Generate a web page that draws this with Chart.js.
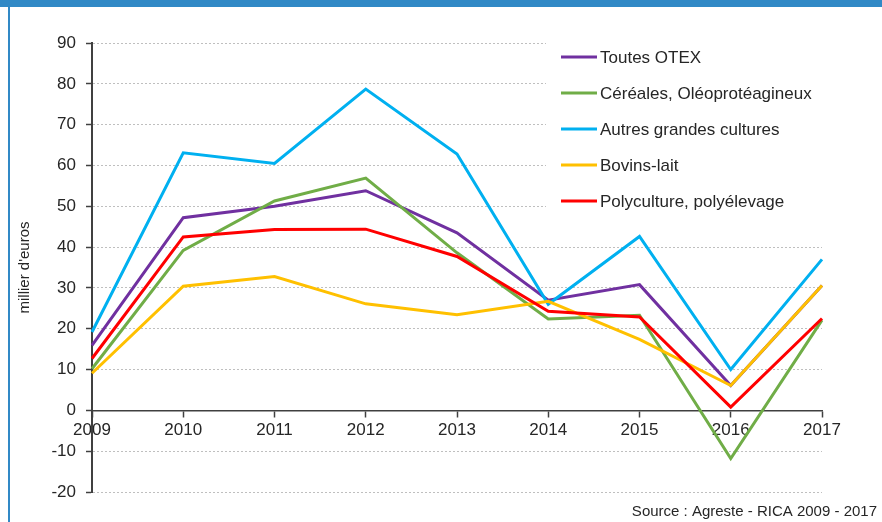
<!DOCTYPE html>
<html>
<head>
<meta charset="utf-8">
<script src="https://cdn.jsdelivr.net/npm/chart.js@4"></script>
<style>
    body { margin: 0; background: #ffffff; }
    #marco { position: relative; width: 882px; height: 522px; overflow: hidden; }
    #barraSuperior { position: absolute; left: 0; top: 0; width: 882px; height: 7px; background: #3189c6; }
    #bordeIzquierdo { position: absolute; left: 8px; top: 0; width: 2px; height: 522px; background: #3189c6; }
    #graficaOtex { position: absolute; left: 0; top: 0; }
</style>
</head>
<body>
<div id="marco">
    <div id="barraSuperior"></div>
    <div id="bordeIzquierdo"></div>
    <canvas id="graficaOtex" width="882" height="522"></canvas>
</div>
<script>
// datos (millier d'euros)
const anios = ["2009", "2010", "2011", "2012", "2013", "2014", "2015", "2016", "2017"];
const nombresSeries = [
    "Toutes OTEX",
    "Céréales, Oléoprotéagineux",
    "Autres grandes cultures",
    "Bovins-lait",
    "Polyculture, polyélevage"
];
const toutesOtex = [15.9, 47.2, 50.0, 53.8, 43.5, 27.0, 30.8, 6.1, 30.6];
const cereales = [10.2, 39.2, 51.3, 56.9, 38.6, 22.4, 23.3, -11.8, 22.1];
const autresCultures = [19.2, 63.1, 60.5, 78.7, 62.8, 26.0, 42.6, 10.0, 37.0];
const bovinsLait = [9.1, 30.4, 32.8, 26.1, 23.4, 26.7, 17.4, 6.1, 30.6];
const polyculture = [12.7, 42.5, 44.3, 44.4, 37.7, 24.3, 22.9, 0.8, 22.5];
const colores = ["#7030a0", "#70ad47", "#00b0f0", "#ffc000", "#ff0000"];
const limitesEjeY = [-20, 90];
const fuente = "Source : Agreste - RICA 2009 - 2017";

const valoresSeries = [toutesOtex, cereales, autresCultures, bovinsLait, polyculture];

//leyenda dibujada dentro del area del grafico, arriba a la derecha
const leyendaInterna = {
    id: "leyendaInterna",
    afterDraw(chart) {
        const ctx = chart.ctx;
        ctx.save();
        ctx.fillStyle = "#ffffff";
        ctx.fillRect(546, 36, 290, 184);
        ctx.font = "17px 'Liberation Sans', Arial, sans-serif";
        ctx.textBaseline = "middle";
        chart.data.datasets.forEach((serie, i) => {
            const y = 57 + i * 36;
            ctx.strokeStyle = serie.borderColor;
            ctx.lineWidth = 3;
            ctx.beginPath();
            ctx.moveTo(561, y);
            ctx.lineTo(597, y);
            ctx.stroke();
            ctx.fillStyle = "#262626";
            ctx.fillText(serie.label, 600, y + 1);
        });
        // texto de la fuente abajo a la derecha
        ctx.font = "15px 'Liberation Sans', Arial, sans-serif";
        ctx.textAlign = "right";
        ctx.textBaseline = "alphabetic";
        ctx.fillStyle = "#262626";
        ctx.fillText(fuente, 877, 516);
        ctx.restore();
    }
};

function crearGrafica() {
    const ctx = document.getElementById("graficaOtex").getContext("2d");
    new Chart(ctx, {
        type: "line",
        data: {
            labels: anios,
            datasets: nombresSeries.map((nombre, i) => ({
                label: nombre,
                data: valoresSeries[i],
                borderColor: colores[i],
                backgroundColor: colores[i],
                borderWidth: 3,
                pointRadius: 0,
                tension: 0,
                order: nombresSeries.length - i
            }))
        },
        options: {
            responsive: false,
            animation: false,
            layout: { padding: { left: 12, top: 43, right: 60, bottom: 30 } },
            plugins: {
                legend: { display: false },
                tooltip: { enabled: false }
            },
            scales: {
                x: {
                    position: { y: 0 },
                    offset: false,
                    border: { color: "#404040", width: 1.5 },
                    grid: {
                        drawOnChartArea: false,
                        drawTicks: true,
                        tickLength: 6,
                        tickColor: "#404040",
                        tickWidth: 1.5
                    },
                    ticks: {
                        color: "#262626",
                        padding: 4,
                        maxRotation: 0,
                        autoSkip: false,
                        font: { family: "'Liberation Sans', Arial, sans-serif", size: 17 }
                    }
                },
                y: {
                    min: limitesEjeY[0],
                    max: limitesEjeY[1],
                    afterFit: (escala) => { escala.width = 80; },
                    border: { color: "#404040", width: 2, dash: [2, 2] },
                    grid: {
                        color: "#bfbfbf",
                        lineWidth: 1,
                        tickLength: 6,
                        tickColor: "#404040",
                        tickWidth: 1.5
                    },
                    ticks: {
                        stepSize: 10,
                        color: "#262626",
                        padding: 10,
                        font: { family: "'Liberation Sans', Arial, sans-serif", size: 17 }
                    },
                    title: {
                        display: true,
                        text: "millier d'euros",
                        color: "#262626",
                        padding: { top: 4, bottom: 4 },
                        font: { family: "'Liberation Sans', Arial, sans-serif", size: 15 }
                    }
                }
            }
        },
        plugins: [leyendaInterna]
    });
}

document.addEventListener("DOMContentLoaded", function() {
    crearGrafica();
});
</script>
</body>
</html>
